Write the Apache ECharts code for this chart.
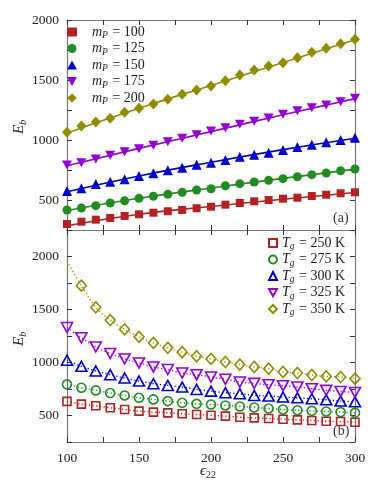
<!DOCTYPE html>
<html><head><meta charset="utf-8">
<script src="https://cdn.jsdelivr.net/npm/echarts@6/dist/echarts.min.js"></script>
<style>html,body{margin:0;padding:0;background:#fff}#c{width:374px;height:480px}</style>
</head><body><div id="c"></div>
<script>
// x values (epsilon_22)
const xVals = [100,110,120,130,140,150,160,170,180,190,200,210,220,230,240,250,260,270,280,290,300];
// Panel (a): markers
const mp100 = [300,319,336,350,367,381,394,406,417,431,444,461,475,489,500,511,519,533,544,556,564];
const mp125 = [417,433,453,475,494,514,531,547,564,583,594,619,636,650,664,678,694,711,725,744,758];
const mp150 = [575,597,633,653,672,700,722,747,769,794,811,833,861,878,894,917,942,961,981,1000,1019];
const mp175 = [792,811,842,872,903,928,956,986,1014,1044,1075,1103,1131,1156,1183,1214,1244,1269,1292,1319,1347];
const mp200 = [1064,1117,1150,1181,1231,1264,1300,1339,1381,1417,1450,1494,1542,1583,1617,1644,1686,1731,1764,1803,1839];
// Panel (a): fit lines
const fitX = [100,150,200,250,300];
const fit100 = [285,381,446,506,562];
const fit125 = [413,514,600,680,757];
const fit150 = [568,700,815,920,1015];
const fit175 = [785,930,1070,1210,1345];
const fit200 = [1058,1265,1455,1645,1835];
// Panel (b)
const tg250 = [633,607,592,573,557,541,532,525,516,509,503,494,484,478,472,465,459,453,446,443,437];
const tg275 = [794,762,737,712,689,667,652,636,620,610,604,595,585,576,566,557,550,544,538,532,525];
const tg300 = [1021,964,920,885,854,825,800,784,768,746,730,715,705,689,683,674,667,658,648,636,629];
const tg325 = [1330,1233,1147,1084,1034,996,958,933,901,885,863,841,816,803,791,781,768,753,737,727,718];
const tg350 = [1955,1725,1520,1400,1312,1242,1185,1138,1097,1059,1034,1005,980,958,942,911,901,882,869,863,847];
const tick1 = [500,1000,1500,2000];

const colors = ['#B22222','#228B22','#0000CC','#9400D3','#8F8C00'];
const serif = 'Liberation Serif';
const axisCol = '#777';

const pairs = (xs, ys) => xs.map((x,i) => [x, ys[i]]);
const downTri = 'path://M0,0 L10,0 L5,9 Z';

function xAx(grid, pos, labels) {
  return {type:'value', gridIndex:grid, position:pos, min:100, max:300, interval:25,
    axisLine:{show:true, onZero:false, lineStyle:{color:axisCol, width:1.2}},
    axisTick:{show:true, inside:true, length:5, lineStyle:{color:'#333'}},
    splitLine:{show:false},
    axisLabel:{show:labels, margin:9, color:'#222', fontFamily:serif, fontSize:13.5,
      formatter: v => (v % 50 === 0 ? String(v) : '')}};
}
function yAx(grid, pos, max, labels) {
  return {type:'value', gridIndex:grid, position:pos, min:250, max:max, interval:250,
    axisLine:{show:true, onZero:false, lineStyle:{color:axisCol, width:1.2}},
    axisTick:{show:true, inside:true, length:5, lineStyle:{color:'#333'}},
    splitLine:{show:false},
    axisLabel:{show:labels, margin:8, color:'#222', fontFamily:serif, fontSize:13.5,
      formatter: v => (tick1.indexOf(v) >= 0 ? String(v) : '')}};
}

const topSets = [mp100, mp125, mp150, mp175, mp200];
const topFits = [fit100, fit125, fit150, fit175, fit200];
const topNames = ['100','125','150','175','200'];
const topSym = ['rect','circle','triangle',downTri,'diamond'];
const topSize = [8,9,10,[10,9],[10,11]];
const botSets = [tg250, tg275, tg300, tg325, tg350];
const botNames = ['250','275','300','325','350'];
const botSym = ['rect','circle','triangle',downTri,'diamond'];
const botSize = [8,9,[11,10],[11,10],[10,11]];

const series = [];
topFits.forEach((f,i) => series.push({type:'line', xAxisIndex:0, yAxisIndex:0, data:pairs(fitX,f),
  smooth:true, showSymbol:false, silent:true, lineStyle:{color:colors[i], width:1.6}, z:2}));
topSets.forEach((d,i) => series.push({type:'scatter', name:'mP'+topNames[i], xAxisIndex:0, yAxisIndex:0,
  data:pairs(xVals,d), symbol:topSym[i], symbolSize:topSize[i], itemStyle:{color:colors[i], opacity:1}, z:3}));
botSets.forEach((d,i) => series.push({type:'line', xAxisIndex:2, yAxisIndex:2, data:pairs(xVals,d),
  smooth:0.35, showSymbol:false, silent:true, lineStyle:{color:colors[i], width:1.4, type:[1.2,2.5]}, z:2}));
botSets.forEach((d,i) => series.push({type:'scatter', name:'Tg'+botNames[i], xAxisIndex:2, yAxisIndex:2,
  data:pairs(xVals,d).filter(p => !(i === 4 && p[0] === 100)), symbol:botSym[i], symbolSize:botSize[i],
  itemStyle:{color:'rgba(255,255,255,0)', borderColor:colors[i], borderWidth:1.6, opacity:1}, z:3}));

const richLeg = {
  p:{width:10},
  i:{fontFamily:serif, fontStyle:'italic', fontSize:14, color:'#222'},
  s:{fontFamily:serif, fontStyle:'italic', fontSize:9.5, color:'#222', padding:[7,1,0,0]},
  n:{fontFamily:serif, fontSize:14, color:'#222'}
};

const option = {
  animation:false,
  backgroundColor:'#fff',
  grid:[{left:67, top:20, width:288, height:210, show:false},
        {left:67, top:230, width:288, height:212, show:false}],
  xAxis:[xAx(0,'bottom',false), xAx(0,'top',false), xAx(1,'bottom',true), xAx(1,'top',false)],
  yAxis:[yAx(0,'left',2000,true), yAx(0,'right',2000,false), yAx(1,'left',2250,true), yAx(1,'right',2250,false)],
  legend:[
    {orient:'vertical', left:67, top:24, itemWidth:10, itemHeight:9, itemGap:0, padding:0,
     data:topNames.map(n => 'mP'+n),
     textStyle:{lineHeight:16, rich:richLeg},
     formatter: n => '{p|}{i|m}{s|P}{n| = ' + n.slice(2) + '}'},
    {orient:'vertical', left:268, top:235, itemWidth:8, itemHeight:8, itemGap:0, padding:0,
     data:botNames.map(n => 'Tg'+n),
     textStyle:{lineHeight:16, rich:richLeg},
     formatter: n => '{i|T}{s|g}{n| = ' + n.slice(2) + ' K}'}
  ],
  graphic:[
    {type:'text', left:333, top:211, style:{text:'(a)', font:'14px "Liberation Serif"', fill:'#333'}},
    {type:'text', left:333, top:424, style:{text:'(b)', font:'14px "Liberation Serif"', fill:'#333'}},
    {type:'text', x:10, y:134, rotation:Math.PI/2, style:{text:'{i|E}{s|b}',
      rich:{i:{fontFamily:serif, fontStyle:'italic', fontSize:15, fill:'#222'},
            s:{fontFamily:serif, fontStyle:'italic', fontSize:10, fill:'#222', padding:[8,0,0,0]}}}},
    {type:'text', x:10, y:346, rotation:Math.PI/2, style:{text:'{i|E}{s|b}',
      rich:{i:{fontFamily:serif, fontStyle:'italic', fontSize:15, fill:'#222'},
            s:{fontFamily:serif, fontStyle:'italic', fontSize:10, fill:'#222', padding:[8,0,0,0]}}}},
    {type:'text', x:200, y:463, style:{text:'{i|\u03f5}{s|22}',
      rich:{i:{fontFamily:serif, fontStyle:'italic', fontSize:15, fill:'#222'},
            s:{fontFamily:serif, fontSize:10, fill:'#222', padding:[7,0,0,0]}}}}
  ],
  series: series
};
const chart = echarts.init(document.getElementById('c'), null, {renderer:'canvas'});
chart.setOption(option);
</script>
</body></html>
